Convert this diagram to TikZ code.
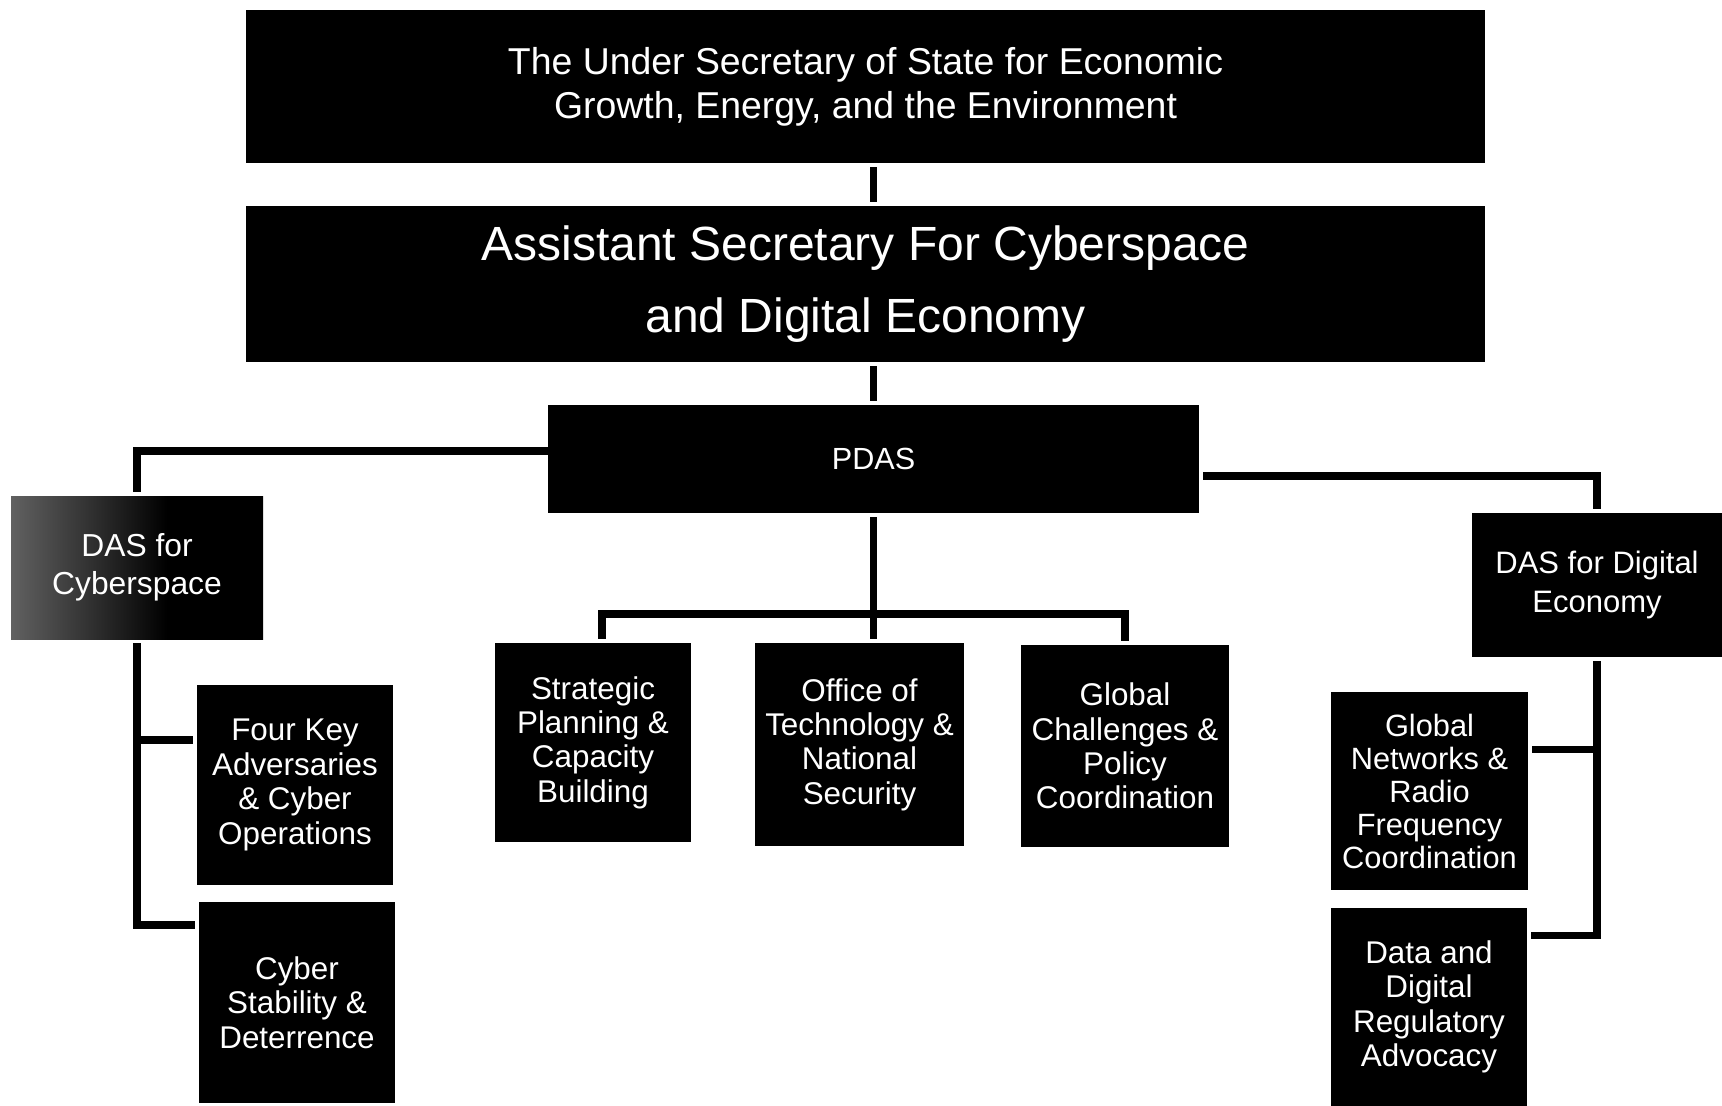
\documentclass[tikz,border=0pt]{standalone}
\usepackage{fontspec}
\setmainfont{Liberation Sans}
\usetikzlibrary{calc}
\pgfdeclarehorizontalshading{speckle}{100bp}{color(0bp)=(black!62); color(25bp)=(black!62); color(40bp)=(black!80); color(56bp)=(black); color(100bp)=(black)}

\begin{document}
\begin{tikzpicture}[x=0.5pt, y=-0.5pt,
	box/.style={fill=black, text=white, align=center, inner sep=0pt},
	unit/.style={box, font=\fontsize{15.7}{17.2}\selectfont},
	link/.style={line width=3.7pt, shorten <=2pt, shorten >=2pt}]
	\useasboundingbox (0,0) rectangle (1722,1106);
	\node [box, minimum width=619.5pt, minimum height=76.5pt, font=\fontsize{18.7}{22}\selectfont] (usec) at (865.5,86.5) {The Under Secretary of State for Economic\\Growth, Energy, and the Environment};
	\node [box, minimum width=619.5pt, minimum height=78pt, font=\fontsize{24}{35.7}\selectfont] (asec) at (865.5,284) {Assistant Secretary For Cyberspace\\and Digital Economy};
	\node [box, minimum width=325.5pt, minimum height=54pt, font=\fontsize{15.3}{18}\selectfont] (pdas) at (873.5,459) {PDAS};
	\node [box, shade, shading=speckle, minimum width=126pt, minimum height=71.5pt, font=\fontsize{15.9}{19.2}\selectfont] (dascyber) at (137,567.5) {DAS for\\Cyberspace};
	\node [box, minimum width=125pt, minimum height=72pt, font=\fontsize{15.5}{19.2}\selectfont] (dasdigital) at (1597,585) {DAS for Digital\\Economy};
	\node [unit, minimum width=98pt, minimum height=100pt] (fourkey) at (295,785) {Four Key\\Adversaries\\\& Cyber\\Operations};
	\node [unit, minimum width=98pt, minimum height=100.5pt] (stability) at (297,1002.5) {Cyber\\Stability \&\\Deterrence};
	\node [unit, minimum width=98pt, minimum height=99.5pt] (strategic) at (593,742.5) {Strategic\\Planning \&\\Capacity\\Building};
	\node [unit, minimum width=104.5pt, minimum height=101.5pt] (office) at (859.5,744.5) {Office of\\Technology \&\\National\\Security};
	\node [unit, minimum width=104pt, minimum height=101pt] (globalch) at (1125,746) {Global\\Challenges \&\\Policy\\Coordination};
	\node [unit, minimum width=98.5pt, minimum height=99pt, font=\fontsize{15.4}{16.5}\selectfont] (globalnet) at (1429.5,791) {Global\\Networks \&\\Radio\\Frequency\\Coordination};
	\node [unit, minimum width=98pt, minimum height=99pt] (datadig) at (1429,1007) {Data and\\Digital\\Regulatory\\Advocacy};

	\draw [link] (usec.south -| pdas.north) -- (asec.north -| pdas.north);
	\draw [link] (asec.south -| pdas.north) -- (pdas.north);
	\draw [link, shorten <=0pt] ([yshift=4pt]pdas.west) -| (dascyber.north);
	\draw [link] ([yshift=-8.5pt]pdas.east) -| (dasdigital.north);

	\coordinate (bar) at (873.5,614);
	\draw [link] (pdas.south) -- (pdas.south |- office.north);
	\draw [link] ([xshift=4.5pt]strategic.north) |- (bar) -| (globalch.north);

	\coordinate (fkjoin) at ($(fourkey.north west)!0.275!(fourkey.south west)$);
	\coordinate (csjoin) at ($(stability.north west)!0.115!(stability.south west)$);
	\draw [link] (dascyber.south) |- (csjoin);
	\draw [link, shorten <=0pt] (dascyber.south |- fkjoin) -- (fkjoin);

	\coordinate (gnjoin) at ($(globalnet.north east)!0.29!(globalnet.south east)$);
	\coordinate (ddjoin) at ($(datadig.north east)!0.14!(datadig.south east)$);
	\draw [link] (dasdigital.south) |- (ddjoin);
	\draw [link, shorten <=0pt] (dasdigital.south |- gnjoin) -- (gnjoin);
\end{tikzpicture}
\end{document}
